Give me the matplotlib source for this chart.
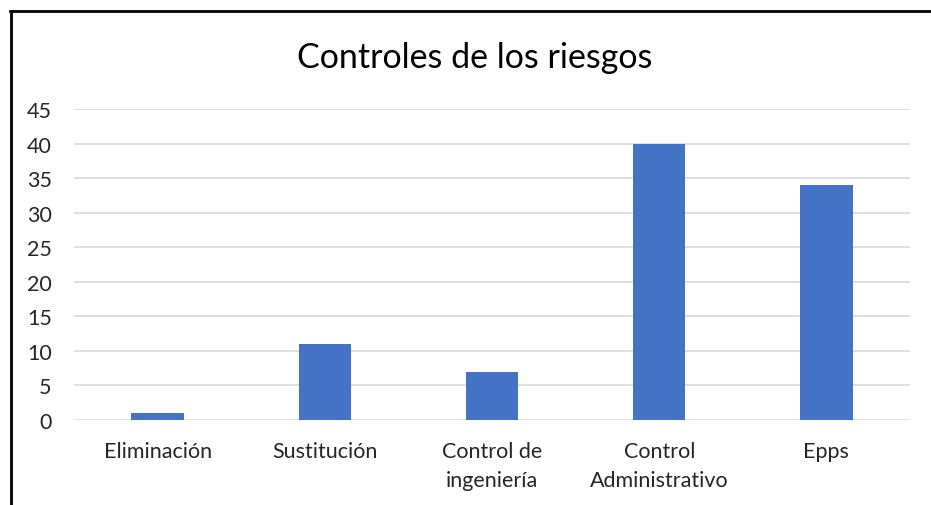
import matplotlib.pyplot as plt
from matplotlib.lines import Line2D

categories = ["Eliminación", "Sustitución", "Control de\ningeniería", "Control\nAdministrativo", "Epps"]
values = [1, 11, 7, 40, 34]
yticks = [0, 5, 10, 15, 20, 25, 30, 35, 40, 45]

plt.rcParams["font.family"] = ["Lato", "DejaVu Sans"]

fig = plt.figure(figsize=(9.31, 5.06), dpi=100)
ax = fig.add_axes([74 / 931, 85 / 506, 836 / 931, 311 / 506])

x = range(len(categories))
ax.bar(x, values, width=0.313, color="#4472c4", zorder=3)
ax.set_xlim(-0.5, len(categories) - 0.5)
ax.set_ylim(0, 45)
ax.set_yticks(yticks)
ax.set_xticks(list(x))
ax.set_xticklabels(categories, fontsize=15.5, color="#262626", linespacing=1.55)
ax.tick_params(axis="y", labelsize=15.5, labelcolor="#262626", length=0, pad=16)
ax.tick_params(axis="x", length=0, pad=15)
ax.grid(axis="y", color="#d9d9d9", linewidth=1.2, zorder=0)
for s in ax.spines.values():
    s.set_visible(False)

fig.text(475 / 931, 1 - 58 / 506, "Controles de los riesgos", ha="center", va="center",
         fontsize=24.5, color="#000000")

# frame around the chart
fig.add_artist(Line2D([10.5 / 931, 10.5 / 931], [0, 1 - 12 / 506], color="black", lw=2,
                      transform=fig.transFigure))
fig.add_artist(Line2D([10 / 931, 1], [1 - 12 / 506, 1 - 12 / 506], color="black", lw=2,
                      transform=fig.transFigure))

fig.savefig("out.png", dpi=100)
